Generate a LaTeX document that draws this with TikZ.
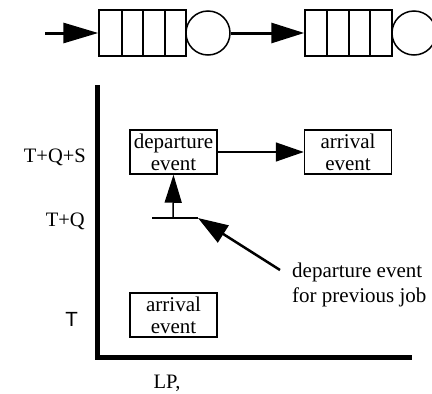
\documentclass[tikz,border=0pt]{standalone}
\usepackage{fontspec}
\setmainfont{Liberation Serif}
\setsansfont{Liberation Sans}
\usepackage{tikz}
\usetikzlibrary{arrows.meta,calc}
\newcommand{\boxw}{87pt}
\newcommand{\boxh}{44pt}
\newcommand{\thin}{1.5pt}
\newcommand{\txt}{\fontsize{20.5pt}{22pt}\selectfont}
\newcommand{\boxtxt}{\fontsize{21pt}{22pt}\selectfont}
\newcommand{\notetxt}{\fontsize{21pt}{25pt}\selectfont}

\begin{document}
\begin{tikzpicture}[x=1pt,y=-1pt]
\clip (0,0) rectangle (432,394);
%queues
\node[draw, line width=\thin, minimum width=87pt, minimum height=46pt, inner sep=0] (q1) at (142.5,33) {};
\node[draw, line width=\thin, circle, minimum size=44pt, inner sep=0] (s1) at (208,33) {};
\node[draw, line width=\thin, minimum width=87pt, minimum height=46pt, inner sep=0] (q2) at (348.5,33) {};
\node[draw, line width=\thin, circle, minimum size=44pt, inner sep=0] (s2) at (414,33) {};
\draw[line width=\thin] (122,10) -- (122,56);
\draw[line width=\thin] (143,10) -- (143,56);
\draw[line width=\thin] (165,10) -- (165,56);
\draw[line width=\thin] (327,10) -- (327,56);
\draw[line width=\thin] (349,10) -- (349,56);
\draw[line width=\thin] (370,10) -- (370,56);
\coordinate (in) at (45,33);
\draw[line width=3pt, -{Triangle[length=35pt,width=20pt]}] (in) -- (q1.west);
\draw[line width=3pt, -{Triangle[length=33pt,width=20pt]}] (s1.east) -- (q2.west);
%axes
\coordinate (ytop) at (97,85);
\coordinate (o) at (97,357);
\coordinate (xend) at (412,357);
\draw[line width=5pt] (ytop) -- (o) -- (xend);
\node[anchor=east, inner sep=0, font=\txt] (tqs) at (86,157) {T+Q+S};
\node[anchor=east, inner sep=0, font=\txt] (tq) at (85,221) {T+Q};
\node[anchor=east, inner sep=0, font=\sffamily\txt] (t) at (78,319) {T};
\node[inner sep=0, font=\txt] (lp) at (167,383) {LP,};
%events
\node[draw, line width=\thin, minimum width=\boxw, minimum height=\boxh, inner sep=0, align=center, font=\boxtxt] (dep) at (173.5,152) {departure\\event};
\node[draw, line width=\thin, minimum width=\boxw, minimum height=\boxh, inner sep=0, align=center, font=\boxtxt] (arr) at (348,152) {arrival\\event};
\node[draw, line width=\thin, minimum width=\boxw, minimum height=\boxh, inner sep=0, align=center, font=\boxtxt] (arr0) at (173.5,315) {arrival\\event};
\draw[line width=\thin, -{Triangle[length=28pt,width=19pt]}] (dep.east) -- (arr.west);
\coordinate (tqa) at (152,218);
\coordinate (tqb) at (198,218);
\coordinate (up) at (173,218);
\draw[line width=\thin] (tqa) -- (tqb);
\draw[line width=\thin, -{Triangle[length=28pt,width=17pt]}] (up) -- (dep.south);
%previous job
\node[anchor=west, inner sep=0, align=left, font=\notetxt] (note) at (292,285) {departure event\\for previous job};
\coordinate (tail) at (280,270);
\draw[line width=2.5pt, -{Triangle[length=30pt,width=20pt]}] (tail) -- (tqb);
\end{tikzpicture}
\end{document}
